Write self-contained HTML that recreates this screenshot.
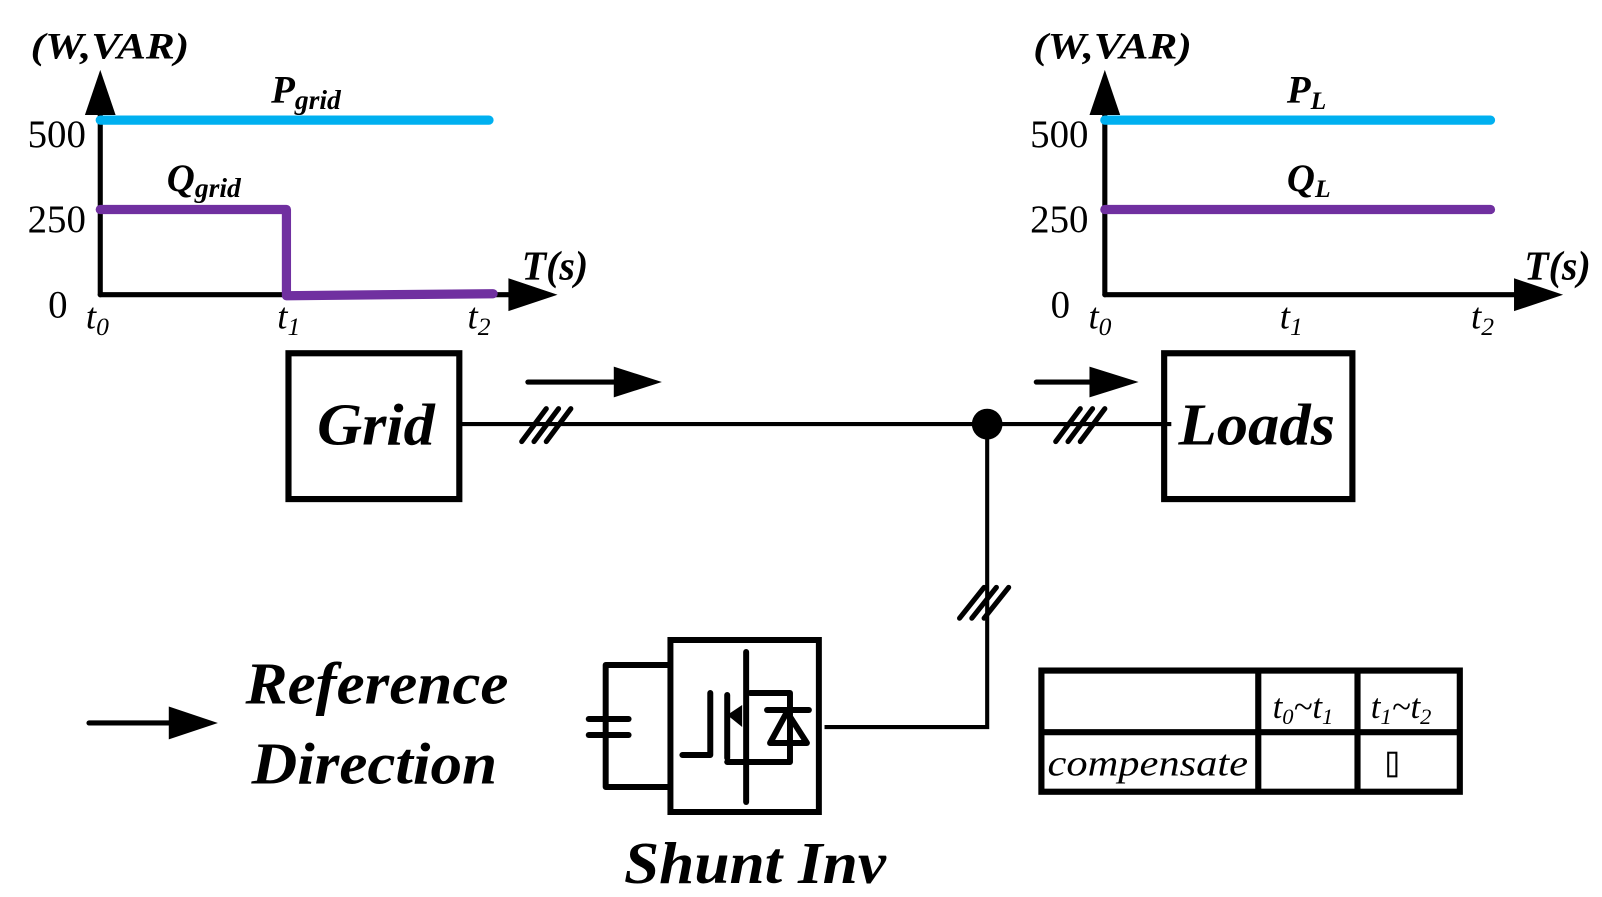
<!DOCTYPE html>
<html><head><meta charset="utf-8"><style>
html,body{margin:0;padding:0;background:#fff;}
svg{display:block;}
text{font-family:"Liberation Serif",serif;}
</style></head><body>
<svg width="1602" height="897" viewBox="0 0 1566 873.5" preserveAspectRatio="none" xmlns="http://www.w3.org/2000/svg">
<g stroke="#000" stroke-width="5" fill="none" stroke-linecap="round">
<line x1="98" y1="105" x2="98" y2="287"/>
<line x1="98" y1="287" x2="500" y2="287"/>
<line x1="1080" y1="105" x2="1080" y2="287"/>
<line x1="1080" y1="287" x2="1485" y2="287"/>
</g>
<g fill="#000">
<polygon points="98,68 83,112 113,112"/>
<polygon points="497,271 545,287 497,303"/>
<polygon points="1080,68 1065,112 1095,112"/>
<polygon points="1480,271 1528,287 1480,303"/>
</g>
<g stroke-linecap="round" fill="none" stroke-width="9">
<line x1="98" y1="117" x2="478" y2="117" stroke="#00b0f0"/>
<polyline points="98,204 280,204 280,288 482,286" stroke="#7030a0" stroke-linejoin="round"/>
<line x1="1080" y1="117" x2="1457" y2="117" stroke="#00b0f0"/>
<line x1="1080" y1="204" x2="1457" y2="204" stroke="#7030a0"/>
</g>
<g font-size="38" fill="#000">
<text x="27" y="143">500</text><text x="27" y="226">250</text><text x="47" y="309">0</text>
<text x="1007" y="143">500</text><text x="1007" y="226">250</text><text x="1027" y="309">0</text>
</g>
<g font-size="36" font-style="italic" fill="#000">
<text x="84" y="320">t<tspan font-size="25" dy="6">0</tspan></text>
<text x="271" y="320">t<tspan font-size="25" dy="6">1</tspan></text>
<text x="457" y="320">t<tspan font-size="25" dy="6">2</tspan></text>
<text x="1064" y="320">t<tspan font-size="25" dy="6">0</tspan></text>
<text x="1251" y="320">t<tspan font-size="25" dy="6">1</tspan></text>
<text x="1438" y="320">t<tspan font-size="25" dy="6">2</tspan></text>
</g>
<g font-weight="bold" font-style="italic" fill="#000">
<text x="30" y="57" font-size="36" textLength="155" lengthAdjust="spacingAndGlyphs">(W,VAR)</text>
<text x="1010" y="57" font-size="36" textLength="155" lengthAdjust="spacingAndGlyphs">(W,VAR)</text>
<text x="510" y="272" font-size="40" textLength="65" lengthAdjust="spacingAndGlyphs">T(s)</text>
<text x="1490" y="272" font-size="40" textLength="65" lengthAdjust="spacingAndGlyphs">T(s)</text>
<text x="265" y="100" font-size="38">P<tspan font-size="27" dy="6">grid</tspan></text>
<text x="163" y="186" font-size="38">Q<tspan font-size="27" dy="6">grid</tspan></text>
<text x="1258" y="100" font-size="38">P<tspan font-size="25" dy="6">L</tspan></text>
<text x="1258" y="186" font-size="38">Q<tspan font-size="25" dy="6">L</tspan></text>
<text x="310" y="433" font-size="58" textLength="115" lengthAdjust="spacingAndGlyphs">Grid</text>
<text x="1152" y="433" font-size="58" textLength="153" lengthAdjust="spacingAndGlyphs">Loads</text>
<text x="240" y="685" font-size="58" textLength="257" lengthAdjust="spacingAndGlyphs">Reference</text>
<text x="246" y="763" font-size="58" textLength="240" lengthAdjust="spacingAndGlyphs">Direction</text>
<text x="610" y="860" font-size="58" textLength="256" lengthAdjust="spacingAndGlyphs">Shunt Inv</text>
</g>
<g stroke="#000" fill="none">
<rect x="282" y="344" width="167" height="142" stroke-width="6"/>
<rect x="1138" y="344" width="184" height="142" stroke-width="6"/>
<line x1="449" y1="413" x2="1145" y2="413" stroke-width="4"/>
<polyline points="965,413 965,708 806,708" stroke-width="4"/>
<g stroke-width="5" stroke-linecap="round">
<line x1="510" y1="430" x2="534" y2="398"/><line x1="522" y1="430" x2="546" y2="398"/><line x1="534" y1="430" x2="558" y2="398"/>
<line x1="1032" y1="430" x2="1056" y2="398"/><line x1="1044" y1="430" x2="1068" y2="398"/><line x1="1056" y1="430" x2="1080" y2="398"/>
<line x1="938" y1="602" x2="962" y2="572"/><line x1="950" y1="602" x2="974" y2="572"/><line x1="962" y1="602" x2="986" y2="572"/>
<line x1="516" y1="372" x2="605" y2="372"/>
<line x1="1013" y1="372" x2="1070" y2="372"/>
<line x1="87" y1="704" x2="170" y2="704"/>
</g>
<g transform="scale(0.9738)">
<rect x="673" y="640" width="149" height="172" stroke-width="6"/>
<g stroke-width="6" stroke-linecap="round" stroke-linejoin="round">
<polyline points="670,665 608,665 608,787 670,787"/>
<line x1="591" y1="719" x2="631" y2="719"/>
<line x1="591" y1="735" x2="631" y2="735"/>
<line x1="749" y1="652" x2="749" y2="802"/>
<polyline points="685,755 713,755 713,693"/>
<line x1="730" y1="695" x2="730" y2="758"/>
<polyline points="753,693 793,693 793,762 730,762"/>
<line x1="770" y1="710" x2="812" y2="710"/>
<polygon points="773,743 810,743 790,712"/>
</g>
<polygon points="730,715 745,705 745,727" fill="#000" stroke="none"/>
</g>
<rect x="1018" y="653" width="409" height="118" stroke-width="6"/>
<line x1="1018" y1="713" x2="1427" y2="713" stroke-width="6"/>
<line x1="1230" y1="653" x2="1230" y2="771" stroke-width="6"/>
<line x1="1327" y1="653" x2="1327" y2="771" stroke-width="6"/>
<rect x="1357" y="733" width="8" height="23" stroke-width="2"/>
</g>
<circle cx="965" cy="413" r="15" fill="#000"/>
<g fill="#000">
<polygon points="600,357 647,372 600,387"/>
<polygon points="1065,357 1113,372 1065,387"/>
<polygon points="165,688 213,704 165,720"/>
</g>
<g font-size="34" font-style="italic" fill="#000">
<text x="1244" y="699">t<tspan font-size="22" dy="6">0</tspan><tspan dy="-6">~t</tspan><tspan font-size="22" dy="6">1</tspan></text>
<text x="1340" y="699">t<tspan font-size="22" dy="6">1</tspan><tspan dy="-6">~t</tspan><tspan font-size="22" dy="6">2</tspan></text>
<text x="1024" y="755" font-size="36" textLength="196" lengthAdjust="spacingAndGlyphs">compensate</text>
</g>
</svg>
</body></html>
